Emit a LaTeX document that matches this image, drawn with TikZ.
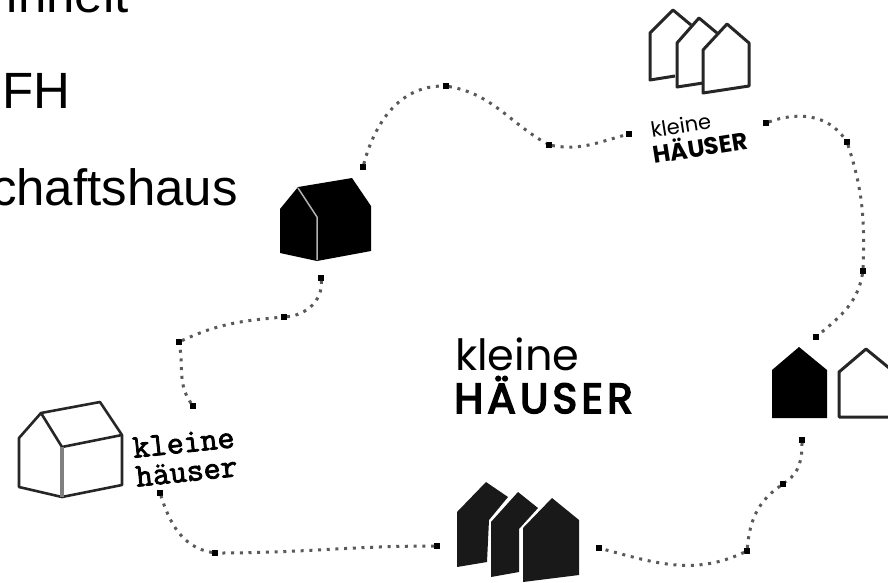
\documentclass[tikz,border=0pt]{standalone}
\usepackage{fontspec}
\setmainfont{Liberation Sans}
\newfontfamily\logofont{Poppins}
\newfontfamily\widefont[LetterSpace=10,FakeBold=4]{Poppins}
\newfontfamily\typefont[FakeBold=2.5]{Latin Modern Mono}
\tikzset{
	body/.style={anchor=base, inner sep=0pt, font=\fontsize{51}{51}\selectfont},
	dotline/.style={line width=3pt, black!65, dash pattern=on 3pt off 5.7pt},
	knot/.style={fill=black, inner sep=0pt, minimum size=5.5pt},
	outline/.style={line width=3pt, black!85, line join=round},
}
\begin{document}
\begin{tikzpicture}[x=1pt, y=-1pt]
	\useasboundingbox (0,0) rectangle (888,582);
	\clip (0,0) rectangle (888,582);

	\node [body, anchor=base east] (lineA) at (129,12) {inheit};
	\node [body, anchor=base west] (lineB) at (2,108) {FH};
	\node [body, anchor=base east] (lineC) at (238,205) {chaftshaus};

	\node [knot] (a1) at (363,167) {};
	\node [knot] (a2) at (446,86) {};
	\node [knot] (a3) at (549,145) {};
	\node [knot] (a4) at (629,134) {};
	\node [knot] (b1) at (766,123) {};
	\node [knot] (b2) at (847,142) {};
	\node [knot] (b3) at (863,271) {};
	\node [knot] (b4) at (816,337) {};
	\node [knot] (c1) at (802,440) {};
	\node [knot] (c2) at (783,484) {};
	\node [knot] (c3) at (747,551) {};
	\node [knot] (c4) at (599,548) {};
	\node [knot] (d1) at (437,546) {};
	\node [knot] (d2) at (215,553) {};
	\node [knot] (d3) at (160,493) {};
	\node [knot] (e1) at (193,406) {};
	\node [knot] (e2) at (179,342) {};
	\node [knot] (e3) at (284,317) {};
	\node [knot] (e4) at (321,278) {};

	\draw [dotline] (a1) to [out=75, in=180] (a2);
	\draw [dotline] (a2) to [out=-10, in=150] (a3);
	\draw [dotline] (a3) to [out=-10, in=195] (a4);
	\draw [dotline] (b1) to [out=20, in=125] (b2);
	\draw [dotline] (b2) to [out=-72, in=88] (b3);
	\draw [dotline] (b3) to [out=-100, in=40] (b4);
	\draw [dotline] (c1) to [out=-90, in=35] (c2);
	\draw [dotline] (c2) to [out=215, in=85] (c3);
	\draw [dotline] (c3) to [out=205, in=-15] (c4);
	\draw [dotline] (d1) to [out=180, in=0] (d2);
	\draw [dotline] (d2) to [out=170, in=-72] (d3);
	\draw [dotline] (e1) to [out=125, in=-80] (e2);
	\draw [dotline] (e2) to [out=25, in=185] (e3);
	\draw [dotline] (e3) to [out=5, in=-85] (e4);

	\draw [outline] (691,25) -- (673,10) -- (650,33) -- (650,80) -- (675,76);
	\draw [outline] (717,33) -- (699,18) -- (677,43) -- (677,87) -- (703,83);
	\draw [outline] (703,50) -- (727,24) -- (749,43) -- (749,86) -- (703,93) -- cycle;
	\node [inner sep=0pt, rotate=9, font=\logofont\fontsize{21}{21}\selectfont, anchor=base west] (smallA) at (652,138) {kleine};
	\node [inner sep=0pt, rotate=9, font=\logofont\bfseries\fontsize{24}{24}\selectfont, anchor=base west] (smallB) at (654,164) {HÄUSER};

	\fill (280,209) -- (298,187) -- (352,178) -- (371,206) -- (371,251) -- (317,261) -- (280,253) -- cycle;
	\draw [black!30, line width=1.5pt] (298,188) -- (317,217) -- (317,260);

	\draw [outline, line width=2.6pt] (19,438) -- (41,413) -- (100,402) -- (122,435) -- (122,485) -- (62,497) -- (19,487) -- cycle;
	\draw [outline, line width=2.6pt] (41,413) -- (62,447) -- (122,435);
	\draw [black!50, line width=3.5pt] (62,447) -- (62,497);
	\node [inner sep=0pt, rotate=6, align=left, font=\typefont\fontsize{33}{29}\selectfont] (monoLogo) at (185,457) {kleine\\häuser};

	\node [inner sep=0pt, anchor=base west, font=\logofont\fontsize{43}{43}\selectfont] (bigA) at (455,370) {kleine};
	\node [inner sep=0pt, anchor=base west, font=\widefont\fontsize{42}{42}\selectfont] (bigB) at (454,413) {HÄUSER};

	\fill (772,370) -- (799,347) -- (827,370) -- (827,418) -- (772,418) -- cycle;
	\draw [outline] (839,372) -- (866,349) -- (894,372) -- (894,417) -- (839,417) -- cycle;

	\fill [black!90] (457,512) -- (486,482) -- (508,497) -- (489,520) -- (487,562) -- (457,567) -- cycle;
	\fill [black!90] (491,522) -- (518,492) -- (538,508) -- (519,529) -- (519,572) -- (491,577) -- cycle;
	\fill [black!90] (523,528) -- (552,498) -- (579,520) -- (579,575) -- (523,582) -- cycle;
\end{tikzpicture}
\end{document}
